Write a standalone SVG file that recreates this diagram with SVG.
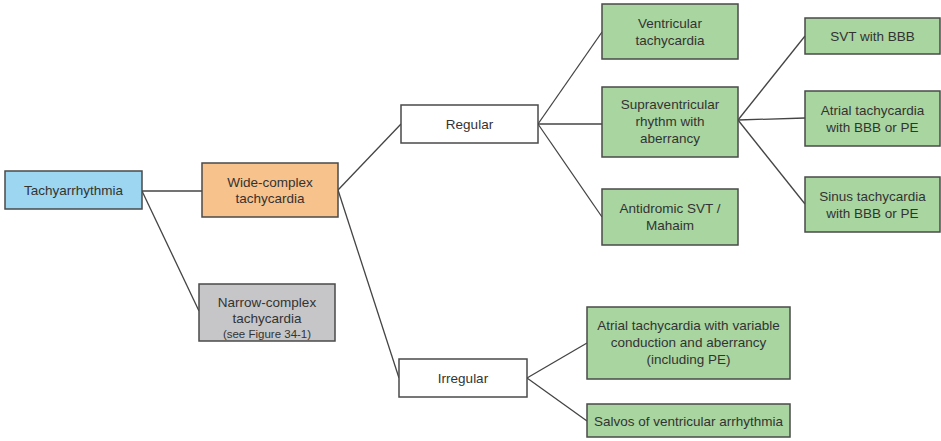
<svg xmlns="http://www.w3.org/2000/svg" width="941" height="441" viewBox="0 0 941 441">
<style>
.n{stroke:#4a4a4a;stroke-width:1.5}
.b{fill:#9dd6f1}.o{fill:#f8c28c}.g{fill:#c6c6c8}.w{fill:#fff}.gr{fill:#a9d5a0}
text{font-family:"Liberation Sans",Arial,sans-serif;font-size:13.5px;fill:#333;text-anchor:middle;dominant-baseline:central}
.s{font-size:11.5px}
#connectors line{stroke:#444;stroke-width:1.3}
</style>
<rect x="0" y="0" width="941" height="441" fill="#fff"/>
<g id="connectors">
<line x1="142" y1="191" x2="202" y2="191"/>
<line x1="142" y1="191" x2="199" y2="311"/>
<line x1="338" y1="190" x2="401" y2="124"/>
<line x1="338" y1="190" x2="399" y2="378"/>
<line x1="538" y1="124" x2="602" y2="32"/>
<line x1="538" y1="124" x2="602" y2="124"/>
<line x1="538" y1="124" x2="602" y2="217"/>
<line x1="738" y1="120" x2="805" y2="36"/>
<line x1="738" y1="120" x2="805" y2="118"/>
<line x1="738" y1="120" x2="805" y2="204"/>
<line x1="527" y1="378" x2="587" y2="343"/>
<line x1="527" y1="378" x2="587" y2="421"/>
</g>
<g id="tachy"><rect class="n b" x="5" y="171" width="137" height="38"/><text x="73.5" y="190">Tachyarrhythmia</text></g>
<g id="wide"><rect class="n o" x="202" y="163" width="136" height="54"/><text x="270" y="182">Wide-complex</text><text x="270" y="198">tachycardia</text></g>
<g id="narrow"><rect class="n g" x="199" y="284" width="136" height="57"/><text x="267" y="302">Narrow-complex</text><text x="267" y="318">tachycardia</text><text class="s" x="267" y="334">(see Figure 34-1)</text></g>
<g id="regular"><rect class="n w" x="401" y="105" width="137" height="38"/><text x="469.5" y="124">Regular</text></g>
<g id="irregular"><rect class="n w" x="399" y="359" width="128" height="38"/><text x="463" y="378">Irregular</text></g>
<g id="vt"><rect class="n gr" x="602" y="4" width="136" height="55"/><text x="670" y="23">Ventricular</text><text x="670" y="40">tachycardia</text></g>
<g id="supra"><rect class="n gr" x="602" y="87" width="136" height="70"/><text x="670" y="104">Supraventricular</text><text x="670" y="121">rhythm with</text><text x="670" y="138">aberrancy</text></g>
<g id="anti"><rect class="n gr" x="602" y="189" width="136" height="56"/><text x="670" y="208">Antidromic SVT /</text><text x="670" y="225">Mahaim</text></g>
<g id="svtbbb"><rect class="n gr" x="805" y="18" width="135" height="36"/><text x="872.5" y="36">SVT with BBB</text></g>
<g id="atbbb"><rect class="n gr" x="805" y="91" width="135" height="55"/><text x="872.5" y="110">Atrial tachycardia</text><text x="872.5" y="127">with BBB or PE</text></g>
<g id="sinus"><rect class="n gr" x="805" y="177" width="135" height="55"/><text x="872.5" y="196">Sinus tachycardia</text><text x="872.5" y="213">with BBB or PE</text></g>
<g id="atvar"><rect class="n gr" x="587" y="307" width="203" height="72"/><text x="688.5" y="325">Atrial tachycardia with variable</text><text x="688.5" y="342">conduction and aberrancy</text><text x="688.5" y="359">(including PE)</text></g>
<g id="salvos"><rect class="n gr" x="587" y="404" width="203" height="33"/><text x="688.5" y="421">Salvos of ventricular arrhythmia</text></g>
</svg>
